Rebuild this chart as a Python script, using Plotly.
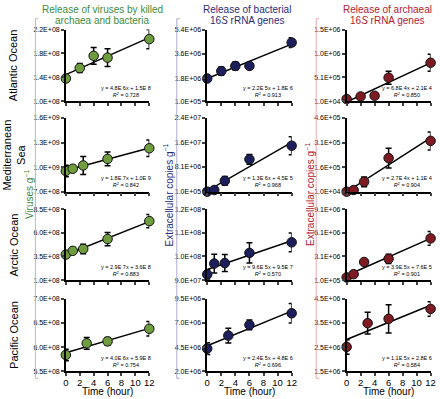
import numpy as np
import plotly.graph_objects as go

W, H = 440, 399

# ---------------- data ----------------
time_atl = [0, 2, 4, 6, 12]
time_med = [0, 1, 2.5, 6, 12]
time_arc = [0, 1, 2.5, 6, 12]
time_pac = [0, 3, 6, 12]

atl_vir = [1.38e8, 1.555e8, 1.76e8, 1.73e8, 2.04e8]
atl_vir_err = [6e6, 7.5e6, 1.4e7, 1.5e7, 1.6e7]
atl_bac = [1.78e6, 2.33e6, 2.71e6, 2.71e6, 4.44e6]
atl_bac_err = [1e5, 3e5, 3e5, 1e5, 3.6e5]
atl_arc = [5.6e4, 1.1e5, 1.25e5, 5.0e5, 8.1e5]
atl_arc_err = [2e4, 2e4, 1e4, 1.35e5, 1.75e5]

med_vir = [9.52e8, 9.8e8, 1.02e9, 1.1e9, 1.23e9]
med_vir_err = [7e7, 3e7, 1.1e8, 8.4e7, 1e8]
med_bac = [1e5, 6.4e5, 3.6e6, 1.056e7, 1.5e7]
med_bac_err = [1e5, 2e5, 1.4e6, 1.6e6, 2.9e6]
med_arc = [1e4, 2e4, 7e4, 2.15e5, 3.2e5]
med_arc_err = [2e3, 5e3, 3e4, 6e4, 5.5e4]

arc_vir = [3.7e8, 4.1e8, 4.3e8, 5.35e8, 7.25e8]
arc_vir_err = [2.5e7, 3e7, 5e7, 7e7, 7e7]
arc_bac = [9.24e7, 9.7e7, 9.72e7, 1.015e8, 1.06e8]
arc_bac_err = [2e6, 4e6, 3.6e6, 4.3e6, 4e6]
arc_arc = [4.4e5, 8.5e5, 2.4e6, 2.8e6, 5.4e6]
arc_arc_err = [1e5, 1e5, 3e5, 6e5, 8.7e5]

pac_vir = [5.84e8, 6.08e8, 6.12e8, 6.38e8]
pac_vir_err = [1.2e7, 1.2e7, 8e6, 1.5e7]
pac_bac = [4.36e6, 5.7e6, 6.8e6, 8.0e6]
pac_bac_err = [6e5, 7.6e5, 5e5, 1e6]
pac_arc = [2.51e6, 3.49e6, 3.67e6, 4.08e6]
pac_arc_err = [3e5, 4.5e5, 5.8e5, 3e5]

# y-axis tick values / labels per panel (row-major)
yticks = [
    [1.0e8, 1.4e8, 1.8e8, 2.2e8], [1.0e5, 1.8e6, 3.6e6, 5.4e6], [1.0e4, 5.1e5, 1.0e6, 1.5e6],
    [7.0e8, 1.0e9, 1.3e9, 1.6e9], [1.0e5, 8.1e6, 1.6e7, 2.4e7], [1.0e4, 1.6e5, 3.1e5, 4.6e5],
    [1.0e8, 3.5e8, 6.0e8, 8.5e8], [9.0e7, 1.0e8, 1.1e8, 1.2e8], [1.0e5, 3.1e6, 6.1e6, 9.1e6],
    [5.5e8, 6.0e8, 6.5e8, 7.0e8], [2.0e6, 4.5e6, 7.0e6, 9.5e6], [1.5e6, 2.5e6, 3.5e6, 4.5e6],
]
ytick_text = [
    ["1.0E+08", "1.4E+08", "1.8E+08", "2.2E+08"], ["1.0E+05", "1.8E+06", "3.6E+06", "5.4E+06"], ["1.0E+04", "5.1E+05", "1.0E+06", "1.5E+06"],
    ["7.0E+08", "1.0E+09", "1.3E+09", "1.6E+09"], ["1.0E+05", "8.1E+06", "1.6E+07", "2.4E+07"], ["1.0E+04", "1.6E+05", "3.1E+05", "4.6E+05"],
    ["1.0E+08", "3.5E+08", "6.0E+08", "8.5E+08"], ["9.0E+07", "1.0E+08", "1.1E+08", "1.2E+08"], ["1.0E+05", "3.1E+06", "6.1E+06", "9.1E+06"],
    ["5.5E+08", "6.0E+08", "6.5E+08", "7.0E+08"], ["2.0E+06", "4.5E+06", "7.0E+06", "9.5E+06"], ["1.5E+06", "2.5E+06", "3.5E+06", "4.5E+06"],
]
equations = [
    "y = 4.8E 6x + 1.5E 8", "y = 2.2E 5x + 1.8E 6", "y = 6.8E 4x + 2.1E 4",
    "y = 1.8E 7x + 1.0E 9", "y = 1.3E 6x + 4.5E 5", "y = 2.7E 4x + 1.1E 4",
    "y = 2.9E 7x + 3.6E 8", "y = 9.6E 5x + 9.5E 7", "y = 3.9E 5x + 7.6E 5",
    "y = 4.0E 6x + 5.9E 8", "y = 2.4E 5x + 4.8E 6", "y = 1.1E 5x + 2.8E 6",
]
r_squared = ["0.728", "0.913", "0.850", "0.842", "0.968", "0.904",
             "0.883", "0.570", "0.901", "0.754", "0.696", "0.584"]
x_ticks = [0, 2, 4, 6, 8, 10, 12]
x_title = "Time (hour)"
row_labels = ["Atlantic Ocean", "Mediterranean<br>Sea", "Arctic Ocean", "Pacific Ocean"]
col_titles = [("Release of viruses by killed", "archaea and bacteria"),
              ("Release of bacterial", "16<i>S</i> rRNA genes"),
              ("Release of archaeal", "16<i>S</i> rRNA genes")]
y_titles = ["Viruses g<sup>−1</sup>", "Extracellular copies g<sup>−1</sup>", "Extracellular copies g<sup>−1</sup>"]

panels = [
    (time_atl, atl_vir, atl_vir_err), (time_atl, atl_bac, atl_bac_err), (time_atl, atl_arc, atl_arc_err),
    (time_med, med_vir, med_vir_err), (time_med, med_bac, med_bac_err), (time_med, med_arc, med_arc_err),
    (time_arc, arc_vir, arc_vir_err), (time_arc, arc_bac, arc_bac_err), (time_arc, arc_arc, arc_arc_err),
    (time_pac, pac_vir, pac_vir_err), (time_pac, pac_bac, pac_bac_err), (time_pac, pac_arc, pac_arc_err),
]

# ---------------- styling ----------------
FONT = "Liberation Sans, Arial, sans-serif"
title_colors = ["#3d8b3d", "#2a2c7a", "#b3202e"]
marker_colors = ["#6e9c3e", "#1c1f5c", "#7d1a22"]
bracket_colors = ["#a3cba3", "#aaaacc", "#eaa8b0"]

col_px = [(64, 149), (208, 294), (350, 435.5)]
row_px = [(26, 99), (116, 191), (209, 281), (300, 374)]
bracket_x = [33, 177, 319]
ytitle_x = [26, 168, 312]
eq_right = [153, 297, 439]
title_cx = [101, 249, 392]

def px(x):
    return x / W

def py(y):
    return 1 - y / H

fig = go.Figure()
layout = dict(
    width=W, height=H, margin=dict(l=0, r=0, t=0, b=0),
    paper_bgcolor="white", plot_bgcolor="white", showlegend=False,
    font=dict(family=FONT, color="black"),
)
annotations = []
shapes = []

for r in range(4):
    for c in range(3):
        k = r * 3 + c + 1
        xa = "x" if k == 1 else f"x{k}"
        ya = "y" if k == 1 else f"y{k}"
        t, v, e = panels[k - 1]
        slope, icpt = np.polyfit(np.array(t, float), np.array(v, float), 1)
        xs = [0, 12]
        fig.add_trace(go.Scatter(x=xs, y=[icpt + slope * xx for xx in xs], mode="lines",
                                 line=dict(color="black", width=1.5), xaxis=xa, yaxis=ya,
                                 hoverinfo="skip", cliponaxis=False))
        fig.add_trace(go.Scatter(
            x=t, y=v, mode="markers", xaxis=xa, yaxis=ya, cliponaxis=False,
            marker=dict(size=9.5, color=marker_colors[c], line=dict(color="#111111", width=1)),
            error_y=dict(type="data", array=e, visible=True, color="black", thickness=1.5, width=3),
        ))
        x0, x1 = col_px[c]
        top, bot = row_px[r]
        layout["xaxis" if k == 1 else f"xaxis{k}"] = dict(
            domain=[px(x0), px(x1)], anchor=ya, range=[0, 12],
            tickvals=x_ticks, ticks="outside", ticklen=3, tickwidth=1.5, tickangle=0,
            ticklabelstandoff=-2,
            showline=True, linecolor="black", linewidth=1.5, showgrid=False, zeroline=False,
            showticklabels=(r == 3), tickfont=dict(size=9.5, family=FONT, color="black"),
        )
        layout["yaxis" if k == 1 else f"yaxis{k}"] = dict(
            domain=[py(bot), py(top)], anchor=xa,
            range=[yticks[k - 1][0], yticks[k - 1][-1]],
            tickvals=yticks[k - 1], ticktext=ytick_text[k - 1],
            ticks="outside", ticklen=3, tickwidth=1.5,
            showline=True, linecolor="black", linewidth=1.5, showgrid=False, zeroline=False,
            tickfont=dict(size=7, family=FONT, color="black"),
        )
        annotations.append(dict(
            x=px(eq_right[c]), y=py(bot - 1.5), xref="paper", yref="paper",
            xanchor="right", yanchor="bottom", align="center", showarrow=False,
            text=f"{equations[k - 1]}<br><i>R</i><sup>2</sup> = {r_squared[k - 1]}",
            font=dict(size=5.5, family=FONT, color="black"),
        ))

for c in range(3):
    x0, x1 = col_px[c]
    for line, yc in zip(col_titles[c], (6, 16.5)):
        annotations.append(dict(
            x=px(title_cx[c]), y=py(yc), xref="paper", yref="paper", xanchor="center", yanchor="middle",
            showarrow=False, text=line,
            font=dict(size=10, family=FONT, color=title_colors[c]),
        ))
    annotations.append(dict(
        x=px((x0 + x1) / 2), y=py(394.5), xref="paper", yref="paper", xanchor="center", yanchor="middle",
        showarrow=False, text=x_title, borderpad=0, font=dict(size=10, family=FONT, color="black"),
    ))
    annotations.append(dict(
        x=px(ytitle_x[c]), y=py(194), xref="paper", yref="paper", xanchor="center", yanchor="middle",
        showarrow=False, text=y_titles[c], textangle=-90,
        font=dict(size=10, family=FONT, color=title_colors[c]),
    ))
    bx = px(bracket_x[c])
    shapes.append(dict(
        type="path", xref="paper", yref="paper",
        path=f"M {px(bracket_x[c] + 3)} {py(15)} L {bx} {py(15)} L {bx} {py(381)} L {px(bracket_x[c] + 3)} {py(381)}",
        line=dict(color=bracket_colors[c], width=1),
    ))

for r in range(4):
    top, bot = row_px[r]
    annotations.append(dict(
        x=px(11), y=py((top + bot) / 2), xref="paper", yref="paper", xanchor="center", yanchor="middle",
        showarrow=False, text=row_labels[r], textangle=-90, align="center",
        font=dict(size=11, family=FONT, color="black"),
    ))

layout["annotations"] = annotations
layout["shapes"] = shapes
fig.update_layout(**layout)
fig.write_html("out.html", config={"displayModeBar": False},
               post_script="document.body.style.margin='0';document.body.style.overflow='hidden';")
